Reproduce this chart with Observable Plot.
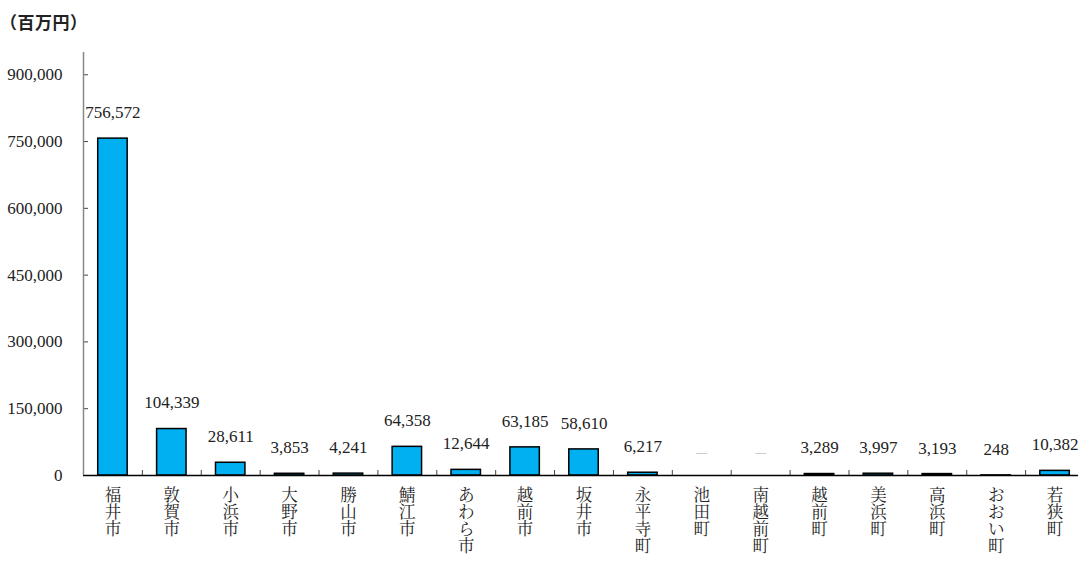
<!DOCTYPE html>
<html><head><meta charset="utf-8">
<script src="https://cdn.jsdelivr.net/npm/d3@7"></script>
<script src="https://cdn.jsdelivr.net/npm/@observablehq/plot@0.6"></script>
<style>
body{margin:0;background:#fff;}
#title{height:40px;font-family:"Noto Sans CJK JP",sans-serif;font-weight:bold;font-size:17px;letter-spacing:0.5px;padding-left:0;line-height:44px;color:#222;}
#chart svg, #chart svg text, #chart svg g{font-family:"Liberation Serif","Noto Serif CJK JP","Noto Sans CJK JP",serif !important;}
</style></head><body>
<div id="title">（百万円）</div>
<div id="chart"></div>
<script>
const categories = ["福井市","敦賀市","小浜市","大野市","勝山市","鯖江市","あわら市","越前市","坂井市","永平寺町","池田町","南越前町","越前町","美浜町","高浜町","おおい町","若狭町"];
const values = [756572,104339,28611,3853,4241,64358,12644,63185,58610,6217,null,null,3289,3997,3193,248,10382];
const yTicks = [0,150000,300000,450000,600000,750000,900000];

const data = categories.map((c,i)=>({name:c, value: values[i]}));
const W=1078, H=522, mL=83, mT=12, mB=87;
const x0=83, x1=1084, step=(x1-x0)/categories.length;
const plotH = H-mT-mB;
const fmt = d3.format(",");
const chart = Plot.plot({
  width:W, height:H, marginLeft:mL, marginRight:0, marginTop:mT, marginBottom:mB,
  style:{fontSize:"16px", color:"#222", background:"#fff"},
  x:{domain:categories, range:[x0,x1], paddingInner:0.5, paddingOuter:0.25, round:false, label:null},
  y:{domain:[0,950000], label:null},
  marks:[
    Plot.axisY(yTicks,{tickSize:0, tickPadding:21, tickFormat:d=>fmt(d), fontSize:17, label:null}),
    Plot.axisX({tickSize:0, tickPadding:13, tickFormat:d=>d.split("").join("\n"), lineHeight:1.04, fontSize:16.5, lineAnchor:"top", label:null}),
    Plot.barY(data.filter(d=>d.value!=null), {x:"name", y:"value", fill:"#00B0F0", stroke:"#000", strokeWidth:1.5}),
    Plot.tickY(yTicks, {y:d=>d, insetRight:W-mL-5, stroke:"#444"}),
    Plot.tickX(categories.slice(1), {x:d=>d, dx:-step/2, insetTop:plotH-5, stroke:"#444"}),
    Plot.ruleY([0], {stroke:"#000", strokeWidth:1.5}),
    Plot.ruleX([categories[0]], {x:d=>d, dx:-step/2, y1:0, y2:950000, stroke:"#888", strokeWidth:1.5}),
    Plot.text(data.filter(d=>d.value!=null), {x:"name", y:"value", text:d=>fmt(d.value), dy:-26, fontSize:17, fill:"#222"}),
    Plot.text(data.filter(d=>d.value==null), {x:"name", y:()=>0, text:()=>"—", dy:-23, fill:"#aaa", fontSize:11})
  ]
});
document.getElementById("chart").appendChild(chart);
</script>
</body></html>
